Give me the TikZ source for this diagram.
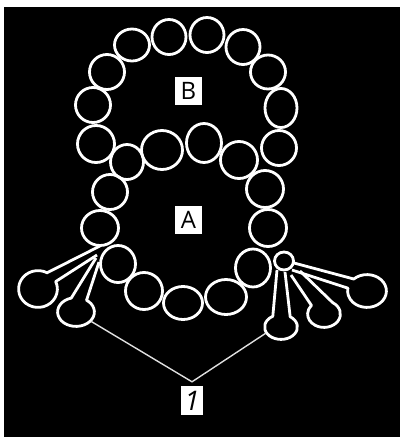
\documentclass[tikz,border=0pt]{standalone}
\usepackage{fontspec}
\setmainfont{Open Sans}
\usetikzlibrary{shapes.geometric,calc}
% one bead: name, centre x, centre y, outer x radius, outer y radius
\newcommand\beadnode[5]{%
  \node[bead,minimum width=2*#4pt-1pt,minimum height=2*#5pt-1pt] (#1) at (#2,#3) {};}
\begin{document}
\begin{tikzpicture}[x=1pt,y=-1pt,
  bead/.style={draw=white,line width=2.8pt,ellipse,inner sep=0pt,outer sep=0pt},
  outline/.style={draw=white,line width=2.8pt,line join=round},
  tag/.style={fill=white,text=black,inner sep=0pt,font=\fontsize{24}{24}\selectfont,
              minimum width=27pt,minimum height=28pt},
  leader/.style={draw=white!88!black,line width=1.4pt}]
\useasboundingbox (0,0) rectangle (400,437);
\fill[white] (0,0) rectangle (400,437);
\fill[black] (4,7) rectangle (400,437);

% upper loop (B)
\beadnode{b1}{96}{144}{19}{19}
\beadnode{b2}{93}{105}{18}{18}
\beadnode{b3}{107}{72}{18}{18}
\beadnode{b4}{132}{45}{18}{16.5}
\beadnode{b5}{169}{37}{17.5}{18}
\beadnode{b6}{207}{35}{17.5}{18}
\beadnode{b7}{243}{47}{17.5}{18}
\beadnode{b8}{268}{72}{18}{17.5}
\beadnode{b9}{281}{108}{16.5}{20}
\beadnode{b10}{279}{148}{18}{18}

% beads shared by both loops
\beadnode{s1}{127}{162}{17}{18}
\beadnode{s2}{162}{150}{21}{20}
\beadnode{s3}{204}{143}{18}{20}
\beadnode{s4}{239}{160}{19}{19}
\beadnode{s5}{265}{189}{19}{19}
\beadnode{s6}{110}{192}{18}{18}

% lower loop (A)
\beadnode{a1}{100}{228}{19}{18}
\beadnode{a2}{118}{264}{18}{19}
\beadnode{a3}{144}{291}{19}{19}
\beadnode{a4}{183}{303}{20}{17}
\beadnode{a5}{226}{297}{21}{18}
\beadnode{a6}{253}{268}{18}{19.5}
\beadnode{a7}{268}{228}{19}{19}
\beadnode{sm}{284}{261}{10}{9.5}

% pendant centres and neck ends
\coordinate (dl1) at (38,289);
\coordinate (dl2) at (76,312);
\coordinate (dr1) at (367,291);
\coordinate (dr2) at (324,314);
\coordinate (dr3) at (281,327);

\coordinate (jl1) at (100,246);
\coordinate (jl2) at (97,255);
\coordinate (jl3) at (96,258);
\coordinate (jl4) at (99,262);
\coordinate (jr1) at (294,263);
\coordinate (jr2) at (292,270);
\coordinate (jr3) at (300,271);
\coordinate (jr4) at (291,275);
\coordinate (jr5) at (285,272);
\coordinate (jr6) at (277,270);

% left pendants
\draw[outline] (jl1) -- ($(dl1)+(-62:19.4 and 18.4)$)
  arc[start angle=-62,end angle=-384,x radius=19.4,y radius=18.4] -- (jl2);
\draw[outline] (jl3) -- ($(dl2)+(-105:18.4 and 14.4)$)
  arc[start angle=-105,end angle=-415,x radius=18.4,y radius=14.4] -- (jl4);

% right pendants
\draw[outline] (jr1) -- ($(dr1)+(-133:19.4 and 16.4)$)
  arc[start angle=-133,end angle=190,x radius=19.4,y radius=16.4] -- (jr2);
\draw[outline] (jr3) -- ($(dr2)+(-58:16.4 and 13.4)$)
  arc[start angle=-58,end angle=220,x radius=16.4,y radius=13.4] -- (jr4);
\draw[outline] (jr5) -- ($(dr3)+(-56:16.4 and 12.4)$)
  arc[start angle=-56,end angle=240,x radius=16.4,y radius=12.4] -- (jr6);

% labels
\node[tag] (lb) at (188.5,91) {B};
\node[tag] (la) at (188.5,220) {A};
\node[tag,minimum width=22pt,minimum height=29pt,font=\fontsize{27}{27}\selectfont\itshape]
  (one) at (192,400.5) {1};

% leader lines to the pendants
\coordinate (apex) at ($(one.north)+(0,-4)$);
\coordinate (lt) at ($(dl2)+(38:19.4 and 15.4)$);
\coordinate (rt) at ($(dr3)+(152:17.4 and 13.4)$);
\draw[leader] (lt) -- (apex) -- (rt);
\end{tikzpicture}
\end{document}
